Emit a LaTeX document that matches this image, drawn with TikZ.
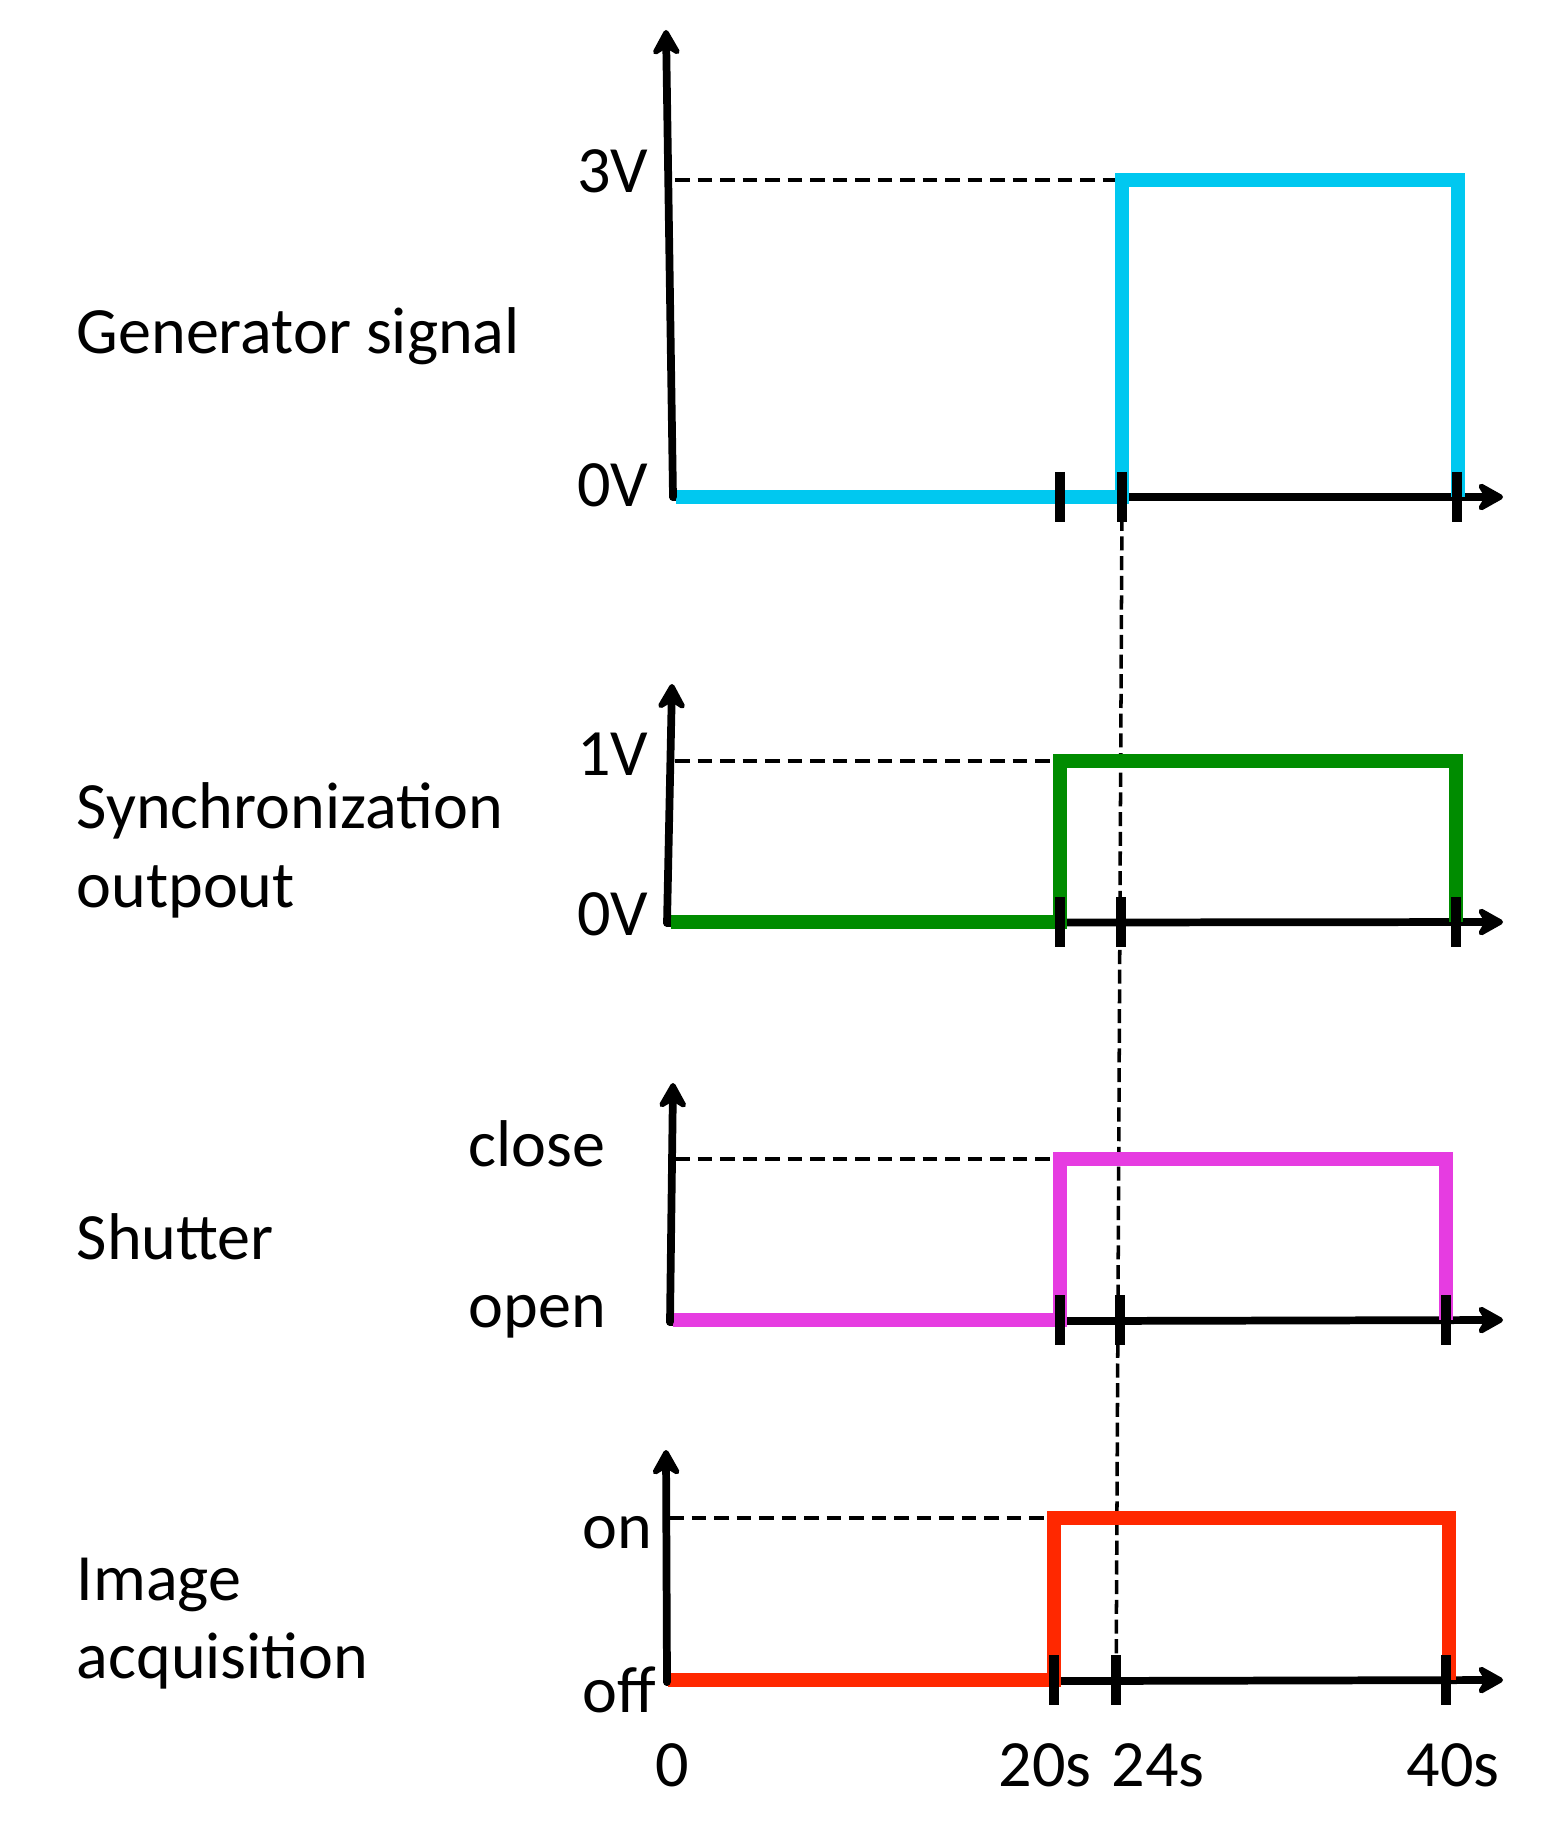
\documentclass[tikz,border=0pt]{standalone}
\usepackage{fontspec}
\setmainfont{Carlito}
\usetikzlibrary{arrows.meta}
\definecolor{sigblue}{RGB}{0,200,240}
\definecolor{siggreen}{RGB}{0,140,0}
\definecolor{sigmag}{RGB}{230,60,225}
\definecolor{sigred}{RGB}{255,40,0}
\begin{document}
\begin{tikzpicture}[x=0.01cm,y=-0.01cm,
  axisline/.style={line width=2.2pt,line cap=round,-{Stealth[round,length=9pt,width=10pt,inset=3pt]}},
  sig/.style={line width=3.8pt},
  tickmark/.style={line width=2.8pt},
  guide/.style={line width=1.1pt,dash pattern=on 4.2pt off 2.2pt},
  vguide/.style={line width=1pt,dash pattern=on 4pt off 1.6pt},
  lab/.style={inner sep=0pt,font=\fontsize{18.8}{22}\selectfont},
]
\useasboundingbox (0,0) rectangle (1554,1831);

% ---------- labels ----------
\node[lab,anchor=base west] (gen)  at (76,354)  {Generator signal};
\node[lab,anchor=base west] (syn)  at (76,828)  {Synchronization};
\node[lab,anchor=base west] (out)  at (76,907)  {outpout};
\node[lab,anchor=base west] (shu)  at (76,1259) {Shutter};
\node[lab,anchor=base west] (ima)  at (76,1600) {Image};
\node[lab,anchor=base west] (acq)  at (76,1678) {acquisition};

\node[lab,anchor=base east] (l3v)  at (649,193)  {3V};
\node[lab,anchor=base east] (l0va) at (649,507)  {0V};
\node[lab,anchor=base east] (l1v)  at (649,775)  {1V};
\node[lab,anchor=base east] (l0vb) at (649,935)  {0V};
\node[lab,anchor=base west] (lcl)  at (468,1166) {close};
\node[lab,anchor=base west] (lop)  at (468,1327) {open};
\node[lab,anchor=base west] (lon)  at (582,1548) {on};
\node[lab,anchor=base west] (lof)  at (582,1712) {off};

\node[lab,anchor=base] (t0)  at (672,1786)  {0};
\node[lab,anchor=base] (t20) at (1045,1786) {20s};
\node[lab,anchor=base] (t24) at (1158,1786) {24s};
\node[lab,anchor=base] (t40) at (1453,1786) {40s};

% ---------- coordinates ----------
\coordinate (o1) at (673,497);  \coordinate (y1) at (666,30);   \coordinate (x1) at (1503,497);
\coordinate (o2) at (667,923);  \coordinate (y2) at (672,684);  \coordinate (x2) at (1503,922);
\coordinate (o3) at (670,1322); \coordinate (y3) at (673,1083); \coordinate (x3) at (1503,1320);
\coordinate (o4) at (667,1682); \coordinate (y4) at (666,1450); \coordinate (x4) at (1503,1680);
\coordinate (vtop) at (1122,497); \coordinate (vbot) at (1116,1702);

% ---------- x axes ----------
\draw[axisline] (o1) -- (x1);
\draw[axisline] (o2) -- (x2);
\draw[axisline] (o3) -- (x3);
\draw[axisline] (o4) -- (x4);

% ---------- dashed guides ----------
\draw[guide] (675,180) -- (1122,180);
\draw[guide] (675,761) -- (1060,761);
\draw[guide] (675,1159) -- (1060,1159);
\draw[guide] (669,1518) -- (1054,1518);
\draw[vguide] (vtop) -- (vbot);

% ---------- signals ----------
\draw[sig,sigblue]  (676,497) -- (1122,497) -- (1122,180) -- (1458,180) -- (1458,497);
\draw[sig,siggreen] (671,922) -- (1060,922) -- (1060,761) -- (1456,761) -- (1456,922);
\draw[sig,sigmag]   (673,1320) -- (1060,1320) -- (1060,1159) -- (1446,1159) -- (1446,1320);
\draw[sig,sigred]   (668,1680) -- (1054,1680) -- (1054,1518) -- (1449,1518) -- (1449,1680);

% ---------- ticks ----------
\foreach \xx in {1060,1122,1457} \draw[tickmark] (\xx,472) -- (\xx,522);
\foreach \xx in {1060,1121,1456} \draw[tickmark] (\xx,897) -- (\xx,947);
\foreach \xx in {1060,1120,1446} \draw[tickmark] (\xx,1295) -- (\xx,1345);
\foreach \xx in {1054,1116,1446} \draw[tickmark] (\xx,1655) -- (\xx,1705);

% ---------- y axes ----------
\draw[axisline] (o1) -- (y1);
\draw[axisline] (o2) -- (y2);
\draw[axisline] (o3) -- (y3);
\draw[axisline] (o4) -- (y4);
\end{tikzpicture}
\end{document}
